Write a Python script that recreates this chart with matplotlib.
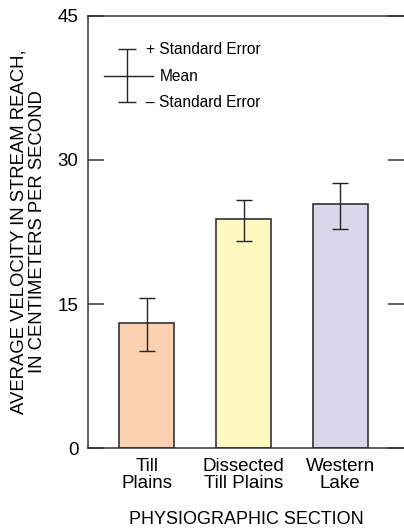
import matplotlib
matplotlib.use('Agg')
import matplotlib.pyplot as plt
import numpy as np

plt.rcParams['font.family'] = ['Liberation Sans', 'DejaVu Sans']

# data
sections = ['Till\nPlains', 'Dissected\nTill Plains', 'Western\nLake']
mean_velocity = [13.0, 23.8, 25.4]
se_upper = [15.6, 25.8, 27.6]
se_lower = [10.1, 21.6, 22.8]
bar_colors = ['#FBD1B1', '#FEF9C1', '#DAD7EB']

edge = '#333333'

fig = plt.figure(figsize=(4.04, 5.29), dpi=100)
ax = fig.add_axes([0.2178, 0.1526, 0.7822, 0.8177])

x = np.arange(len(sections))
mean = np.array(mean_velocity)
yerr = np.vstack([mean - np.array(se_lower), np.array(se_upper) - mean])

ax.bar(x, mean, width=0.57, color=bar_colors, edgecolor=edge, linewidth=1.2, zorder=2)
ax.errorbar(x, mean, yerr=yerr, fmt='none', ecolor='#222222', elinewidth=1.0,
            capsize=5.5, capthick=1.0, zorder=3)

ax.set_xlim(-0.61, 2.66)
ax.set_ylim(0, 45)
ax.set_yticks([0, 15, 30, 45])
ax.set_xticks(x)
ax.set_xticklabels(sections, fontsize=13.5, linespacing=1.0)
ax.tick_params(axis='x', length=0, pad=7)
ax.tick_params(axis='y', direction='in', length=11.5, width=1.1, color=edge,
               labelsize=13.5, pad=7, right=True)

for side in ['left', 'bottom', 'top']:
    ax.spines[side].set_color(edge)
    ax.spines[side].set_linewidth(1.1)
ax.spines['right'].set_visible(False)

ax.set_ylabel('AVERAGE VELOCITY IN STREAM REACH,\nIN CENTIMETERS PER SECOND',
              fontsize=13.3, linespacing=1.12, labelpad=8)
ax.set_xlabel('PHYSIOGRAPHIC SECTION', fontsize=13, labelpad=14)

# explanation key
kx, kmean, kup, klo = -0.207, 38.7, 41.5, 36.0
ax.errorbar([kx], [kmean], yerr=[[kmean - klo], [kup - kmean]], fmt='none',
            ecolor='#222222', elinewidth=1.0, capsize=6.5, capthick=1.0)
ax.plot([-0.446, 0.062], [kmean, kmean], color='#222222', lw=1.0)
ax.text(-0.01, kup, '+ Standard Error', fontsize=11.2, va='center', ha='left')
ax.text(0.135, kmean, 'Mean', fontsize=11.2, va='center', ha='left')
ax.text(-0.01, klo, '\u2013 Standard Error', fontsize=11.2, va='center', ha='left')

fig.savefig('out.png', dpi=100)
